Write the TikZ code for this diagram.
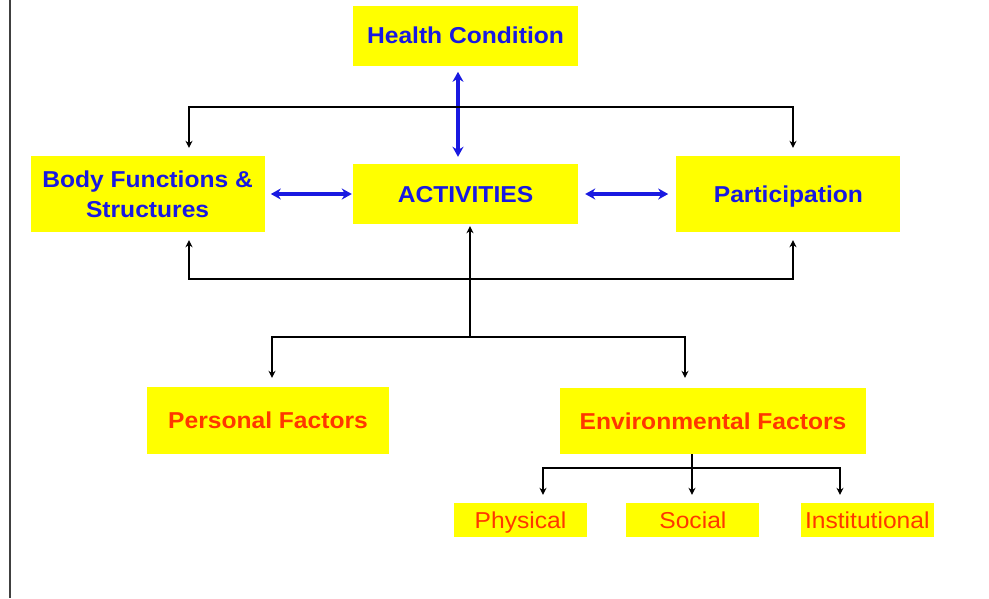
\documentclass[tikz,border=0pt]{standalone}
\usepackage{xcolor}
\usepackage{tikz}
\usepackage{fontspec}
\setmainfont[FakeStretch=1.07]{Liberation Sans}
\usetikzlibrary{shapes.geometric, arrows.meta, positioning}
\definecolor{boxyellow}{RGB}{255, 255, 0}
\definecolor{icfblue}{RGB}{25, 25, 225}
\definecolor{factorred}{RGB}{255, 55, 0}

\begin{document}
\begin{tikzpicture}[x=1pt, y=-1pt]
  \tikzstyle{icfbox} = [rectangle, fill=boxyellow, inner sep=0pt, text centered, align=center, text=icfblue, font=\fontsize{23}{30}\selectfont\bfseries]
  \tikzstyle{oneline} = [text height=17pt, text depth=0.5pt]
  \tikzstyle{factor} = [icfbox, oneline, text=factorred]
  \tikzstyle{subfactor} = [rectangle, fill=boxyellow, inner sep=0pt, oneline, text centered, minimum width=133pt, minimum height=34pt, text=factorred, font=\fontsize{23}{28}\selectfont]
  \tikzstyle{bluearrow} = [icfblue, line width=3.5pt, {Stealth[length=10pt, width=11pt]}-{Stealth[length=10pt, width=11pt]}]
  \tikzstyle{link} = [black, line width=1.3pt]
  \tikzstyle{tips} = [link, {Stealth[length=7pt, width=7pt]}-{Stealth[length=7pt, width=7pt]}]
  \tikzstyle{arrow} = [link, -{Stealth[length=7pt, width=7pt]}]

  \useasboundingbox (0,0) rectangle (989,598);
  \draw [line width=2pt, black!75] (10,0) -- (10,598);

  \node (act) [icfbox, oneline, minimum width=225pt, minimum height=60pt] at (465.5,194) {ACTIVITIES};
  \node (health) [icfbox, oneline, minimum width=225pt, minimum height=60pt, above=98pt of act] {Health Condition};
  \node (body) [icfbox, minimum width=234pt, minimum height=76pt, left=88pt of act] {Body Functions \&\\ Structures};
  \node (part) [icfbox, oneline, minimum width=224pt, minimum height=76pt, right=98pt of act] {Participation};

  \node (personal) [factor, minimum width=242pt, minimum height=67pt] at (268,420.5) {Personal Factors};
  \node (env) [factor, minimum width=306pt, minimum height=66pt] at (713,421) {Environmental Factors};

  \node (phys) [subfactor] at (520.5,520) {Physical};
  \node (social) [subfactor, right=39pt of phys] {Social};
  \node (inst) [subfactor, right=41pt of social] {Institutional};

  \coordinate (topL) at (189,107);
  \coordinate (topR) at (793,107);
  \coordinate (botL) at (189,279);
  \coordinate (botR) at (793,279);
  \coordinate (hub) at (470,337);
  \coordinate (pfL) at (272,337);
  \coordinate (pfR) at (685,337);
  \coordinate (envhub) at (692,468);
  \coordinate (ehL) at (543,468);
  \coordinate (ehR) at (840,468);

  \draw [bluearrow, shorten <=6pt, shorten >=7pt] ([xshift=-7.5pt]health.south) -- ([xshift=-7.5pt]act.north);
  \draw [bluearrow, shorten <=6pt, shorten >=1pt] (body) -- (act);
  \draw [bluearrow, shorten <=7pt, shorten >=8pt] (act) -- (part);

  \draw [tips, shorten <=8pt, shorten >=8pt] (topL |- body.north) -- (topL) -- (topR) -- (topR |- part.north);
  \draw [tips, shorten <=8pt, shorten >=8pt] (botL |- body.south) -- (botL) -- (botR) -- (botR |- part.south);
  \draw [arrow, shorten >=2pt] (hub) -- (hub |- act.south);
  \draw [tips, shorten <=9pt, shorten >=10pt] (pfL |- personal.north) -- (pfL) -- (pfR) -- (pfR |- env.north);

  \draw [link] (envhub |- env.south) -- (envhub);
  \draw [arrow, shorten >=8pt] (envhub) -- (envhub |- social.north);
  \draw [tips, shorten <=8pt, shorten >=8pt] (ehL |- phys.north) -- (ehL) -- (ehR) -- (ehR |- inst.north);
\end{tikzpicture}
\end{document}
